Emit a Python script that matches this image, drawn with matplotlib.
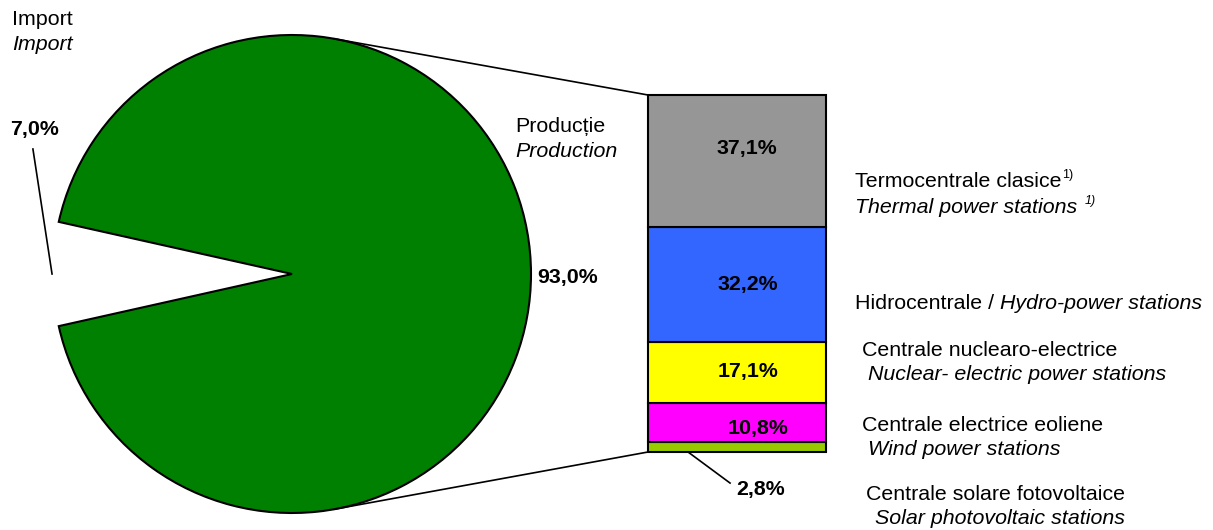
import math

import matplotlib

matplotlib.use("Agg")

import matplotlib.pyplot as plt
from matplotlib.patches import ConnectionPatch

plt.rcParams["font.family"] = ["Liberation Sans", "DejaVu Sans"]

# pie: import vs production
pie_labels = ["Import", "Producție"]
pie_values = [7.0, 93.0]
pie_texts = ["7,0%", "93,0%"]

# bar: production by source, bottom to top
bar_sources = [
    "Centrale solare fotovoltaice",
    "Centrale electrice eoliene",
    "Centrale nuclearo-electrice",
    "Hidrocentrale",
    "Termocentrale clasice",
]
bar_values = [2.8, 10.8, 17.1, 32.2, 37.1]
bar_texts = ["2,8%", "10,8%", "17,1%", "32,2%", "37,1%"]
bar_colors = ["#99CC00", "#FF00FF", "#FFFF00", "#3366FF", "#969696"]

W, H = 1213, 530
FS = 15.4


def box(left, top, width, height):
    return [left / W, (H - top - height) / H, width / W, height / H]


fig = plt.figure(figsize=(W / 100, H / 100), dpi=100)

# overlay in pixel coordinates for free text
ax_txt = fig.add_axes([0, 0, 1, 1])
ax_txt.set_xlim(0, W)
ax_txt.set_ylim(H, 0)
ax_txt.axis("off")

# pie
cx, cy, r = 292, 274, 239
lim = 1.05
half = r * lim
ax_pie = fig.add_axes(box(cx - half, cy - half, 2 * half, 2 * half))
start = 180 - pie_values[0] / sum(pie_values) * 360 / 2
wedges, _ = ax_pie.pie(pie_values, startangle=start, radius=1,
                       colors=["white", "#008000"],
                       wedgeprops=dict(edgecolor="black", linewidth=1.5))
wedges[0].set_linewidth(0)
ax_pie.set_xlim(-lim, lim)
ax_pie.set_ylim(-lim, lim)
ax_pie.set_aspect("equal")
ax_pie.axis("off")

ax_pie.text(1.155, -0.038, pie_texts[1], fontsize=FS, fontweight="bold",
            ha="center", va="baseline")
ax_pie.text(-1.079, 0.582, pie_texts[0], fontsize=FS, fontweight="bold",
            ha="center", va="baseline", clip_on=False)
ax_pie.plot([-1.084, -1.004], [0.523, 0.0], color="black", lw=1.2, clip_on=False)

# bar of pie
bx, btop, bw, bh = 648, 95, 178, 357
ax_bar = fig.add_axes(box(bx, btop, bw, bh))
bottoms = [sum(bar_values[:i]) for i in range(len(bar_values))]
ax_bar.bar(0, bar_values, bottom=bottoms, width=1, color=bar_colors,
           edgecolor="black", linewidth=1.5, clip_on=False)
ax_bar.set_xlim(-0.5, 0.5)
ax_bar.set_ylim(0, sum(bar_values))
ax_bar.axis("off")

label_x = [0.135, 0.118, 0.06, 0.06, 0.056]
label_dy = [0, -4, 1, 0, 9]
for i, (v, b, t) in enumerate(zip(bar_values, bottoms, bar_texts)):
    if i == 0:
        continue
    ax_bar.annotate(t, xy=(label_x[i], b + v / 2), xytext=(0, label_dy[i]),
                    textcoords="offset points", fontsize=FS, fontweight="bold",
                    ha="center", va="center")
ax_bar.text(label_x[0], -12.0, bar_texts[0], fontsize=FS, fontweight="bold",
            ha="center", va="baseline", clip_on=False)
ax_bar.plot([-0.275, -0.039], [bottoms[0], -8.7], color="black", lw=1.2, clip_on=False)

# connector lines tangent to the pie
for corner in [(-0.5, sum(bar_values)), (-0.5, 0)]:
    px, py = ax_bar.transData.transform(corner)
    ccx, ccy = ax_pie.transData.transform((0, 0))
    rpx = ax_pie.transData.transform((1, 0))[0] - ccx
    d = math.hypot(px - ccx, py - ccy)
    phi = math.atan2(py - ccy, px - ccx)
    theta = math.acos(rpx / d)
    a = phi + theta if py > ccy else phi - theta
    con = ConnectionPatch(xyA=(math.cos(a), math.sin(a)), coordsA=ax_pie.transData,
                          xyB=corner, coordsB=ax_bar.transData,
                          color="black", lw=1.2)
    fig.add_artist(con)

# free text
ax_txt.text(12, 25, "Import", fontsize=FS, va="baseline")
ax_txt.text(12, 50, "Import", fontsize=FS, style="italic", va="baseline")
ax_txt.text(515, 132, "Producție", fontsize=FS, va="baseline")
ax_txt.text(515, 157, "Production", fontsize=FS, style="italic", va="baseline")

t = ax_txt.text(855, 187, "Termocentrale clasice", fontsize=FS, va="baseline")
ax_txt.annotate("1)", xy=(1, 1), xycoords=t, xytext=(0.5, 2),
                textcoords="offset points", fontsize=9, va="top", ha="left")
t = ax_txt.text(855, 213, "Thermal power stations", fontsize=FS, style="italic",
                va="baseline")
ax_txt.annotate("1)", xy=(1, 1), xycoords=t, xytext=(5, 2),
                textcoords="offset points", fontsize=9, style="italic",
                va="top", ha="left")
t = ax_txt.text(855, 309, "Hidrocentrale /", fontsize=FS, va="baseline")
ax_txt.annotate("Hydro-power stations", xy=(1, 0), xycoords=t, xytext=(4, 0),
                textcoords="offset points", fontsize=FS, style="italic",
                va="bottom", ha="left")
ax_txt.text(862, 356, "Centrale nuclearo-electrice", fontsize=FS, va="baseline")
ax_txt.text(868, 380, "Nuclear- electric power stations", fontsize=FS,
            style="italic", va="baseline")
ax_txt.text(862, 431, "Centrale electrice eoliene", fontsize=FS, va="baseline")
ax_txt.text(868, 455, "Wind power stations", fontsize=FS, style="italic",
            va="baseline")
ax_txt.text(866, 500, "Centrale solare fotovoltaice", fontsize=FS, va="baseline")
ax_txt.text(875, 524, "Solar photovoltaic stations", fontsize=FS, style="italic",
            va="baseline")

fig.savefig("out.png", dpi=100)
plt.close(fig)
